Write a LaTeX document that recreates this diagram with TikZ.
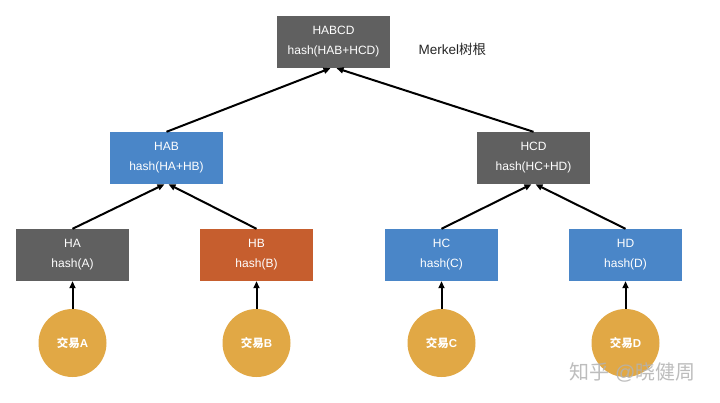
\documentclass[tikz,border=0pt]{standalone}
\usepackage{fontspec}
\setmainfont{Liberation Sans}
\newfontfamily\cjk{Noto Sans CJK SC}
\usetikzlibrary{arrows.meta}
\definecolor{boxgray}{HTML}{606060}
\definecolor{boxblue}{HTML}{4A86C8}
\definecolor{boxorange}{HTML}{C65E2E}
\definecolor{txgold}{HTML}{E1A845}
\tikzset{
  hbox/.style={draw=none, minimum width=113pt, minimum height=52pt, text=white, align=center,
    font=\fontsize{12}{20}\selectfont, inner sep=0pt},
  txc/.style={circle, fill=txgold, minimum size=68pt, inner sep=0pt, text=white,
    font=\fontsize{11.5}{13}\selectfont\bfseries},
  conn/.style={-{Triangle[length=7pt,width=6pt]}, line width=2pt, black},
}
\begin{document}
\begin{tikzpicture}[x=1pt,y=-1pt]
\useasboundingbox (0,0) rectangle (720,402);
\fill[white] (0,0) rectangle (720,402);
\node[hbox, fill=boxgray] (habcd) at (333.5,42) {HABCD\\hash(HAB+HCD)};
\node[anchor=west, font=\fontsize{13.5}{16}\selectfont, text=black!85] (lbl) at (415,49) {Merkel{\cjk 树根}};
\node[hbox, fill=boxblue] (hab) at (166.5,158) {HAB\\hash(HA+HB)};
\node[hbox, fill=boxgray] (hcd) at (533.5,158) {HCD\\hash(HC+HD)};
\node[hbox, fill=boxgray] (ha) at (72.5,255) {HA\\hash(A)};
\node[hbox, fill=boxorange] (hb) at (256.5,255) {HB\\hash(B)};
\node[hbox, fill=boxblue] (hc) at (441.5,255) {HC\\hash(C)};
\node[hbox, fill=boxblue] (hd) at (625.5,255) {HD\\hash(D)};
\node[txc] (ta) at (72.5,343) {{\cjk\bfseries 交易}A};
\node[txc] (tb) at (256.5,343) {{\cjk\bfseries 交易}B};
\node[txc] (tc) at (441.5,343) {{\cjk\bfseries 交易}C};
\node[txc] (td) at (625.5,343) {{\cjk\bfseries 交易}D};
\draw[conn] (ta.north) -- (ha.south);
\draw[conn] (tb.north) -- (hb.south);
\draw[conn] (tc.north) -- (hc.south);
\draw[conn] (td.north) -- (hd.south);
\draw[conn] (ha.north) -- ([xshift=-2pt]hab.south);
\draw[conn] (hb.north) -- ([xshift=2pt]hab.south);
\draw[conn] (hc.north) -- ([xshift=-2pt]hcd.south);
\draw[conn] (hd.north) -- ([xshift=2pt]hcd.south);
\draw[conn] (hab.north) -- ([xshift=-3pt]habcd.south);
\draw[conn] (hcd.north) -- ([xshift=3pt]habcd.south);
\node[anchor=west, text=black!30, opacity=0.85, font=\fontsize{20}{22}\selectfont] (wm) at (566,372) {{\cjk 知乎} @{\cjk 晓健周}};
\end{tikzpicture}
\end{document}
